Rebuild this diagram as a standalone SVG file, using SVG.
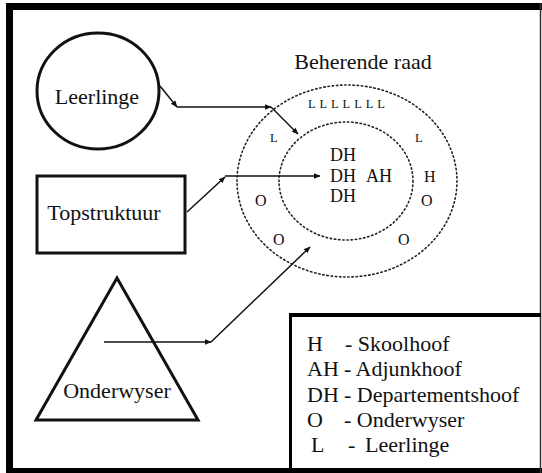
<svg xmlns="http://www.w3.org/2000/svg" width="542" height="473" viewBox="0 0 542 473">
<style>
text{font-family:"Liberation Serif","Tinos","Times New Roman","DejaVu Serif",serif;fill:#111}
.lbl{font-size:22px}
.shape{fill:none;stroke:#111;stroke-width:3}
.dot{fill:none;stroke:#222;stroke-width:1.6;stroke-dasharray:1.4 2.8;stroke-linecap:round}
.arr{fill:none;stroke:#111;stroke-width:1.5;marker-end:url(#ah)}
.in{font-size:18px}
.sm{font-size:16px}
.ll{font-size:12.5px}
.leg{font-size:22px}
</style>
<defs>
<marker id="ah" viewBox="0 0 10 10" refX="9" refY="5" markerWidth="7" markerHeight="7" markerUnits="userSpaceOnUse" orient="auto">
<path d="M0,1 L10,5 L0,9 Z" fill="#111"/>
</marker>
</defs>
<rect width="542" height="473" fill="#fff"/>
<g id="frame">
<line x1="9.5" y1="3" x2="9.5" y2="473" stroke="#000" stroke-width="7"/>
<line x1="6" y1="6.5" x2="542" y2="6.5" stroke="#000" stroke-width="7"/>
<line x1="6" y1="470.5" x2="542" y2="470.5" stroke="#000" stroke-width="5"/>
<line x1="540.5" y1="3" x2="540.5" y2="473" stroke="#333" stroke-width="1.5"/>
</g>
<g id="leerlinge">
<ellipse class="shape" cx="98" cy="91" rx="61" ry="58"/>
<text class="lbl" x="97" y="104" text-anchor="middle" font-family="Liberation Serif, serif">Leerlinge</text>
</g>
<g id="topstruktuur">
<rect class="shape" x="37" y="176" width="148" height="77"/>
<text class="lbl" x="104" y="220" text-anchor="middle">Topstruktuur</text>
</g>
<g id="onderwyser">
<polygon class="shape" points="117,278 36,420 198,420"/>
<text class="lbl" x="117" y="398" text-anchor="middle">Onderwyser</text>
</g>
<g id="beherende-raad">
<text class="lbl" x="363" y="69" text-anchor="middle">Beherende raad</text>
<ellipse class="dot" cx="347" cy="181" rx="110" ry="96"/>
<ellipse class="dot" cx="346" cy="181" rx="67" ry="59"/>
<text class="ll" x="308" y="108" letter-spacing="3.9">LLLLLLL</text>
<text class="ll" x="270" y="142">L</text>
<text class="ll" x="415" y="142">L</text>
<text class="in" x="330" y="161">DH</text>
<text class="in" x="330" y="182">DH</text>
<text class="in" x="366" y="182">AH</text>
<text class="in" x="330" y="202">DH</text>
<text class="sm" x="424" y="182">H</text>
<text class="sm" x="255" y="206">O</text>
<text class="sm" x="421" y="206">O</text>
<text class="sm" x="273" y="245">O</text>
<text class="sm" x="398" y="245">O</text>
</g>
<g id="legend">
<line x1="290.5" y1="313" x2="290.5" y2="470" stroke="#000" stroke-width="3"/>
<line x1="289" y1="315" x2="541" y2="315" stroke="#000" stroke-width="4"/>
<g class="leg">
<text x="307" y="351">H</text><text x="345" y="351">- Skoolhoof</text>
<text x="307" y="376">AH</text><text x="344" y="376">- Adjunkhoof</text>
<text x="307" y="402">DH</text><text x="344" y="402">- Departementshoof</text>
<text x="307" y="427">O</text><text x="344" y="427">- Onderwyser</text>
<text x="311" y="452">L</text><text x="348" y="452">-</text><text x="365" y="452">Leerlinge</text>
</g>
</g>
<g id="connectors">
<path class="arr" d="M160,86 L177,107"/>
<path class="arr" d="M177,107 L271,107"/>
<path class="arr" d="M271,107 L298,134"/>
<path class="arr" d="M187,212 L225,177"/>
<path class="arr" d="M225,176 L320,176"/>
<path class="arr" d="M104,342 L211,342"/>
<path class="arr" d="M211,342 L310,247"/>
</g>
</svg>
